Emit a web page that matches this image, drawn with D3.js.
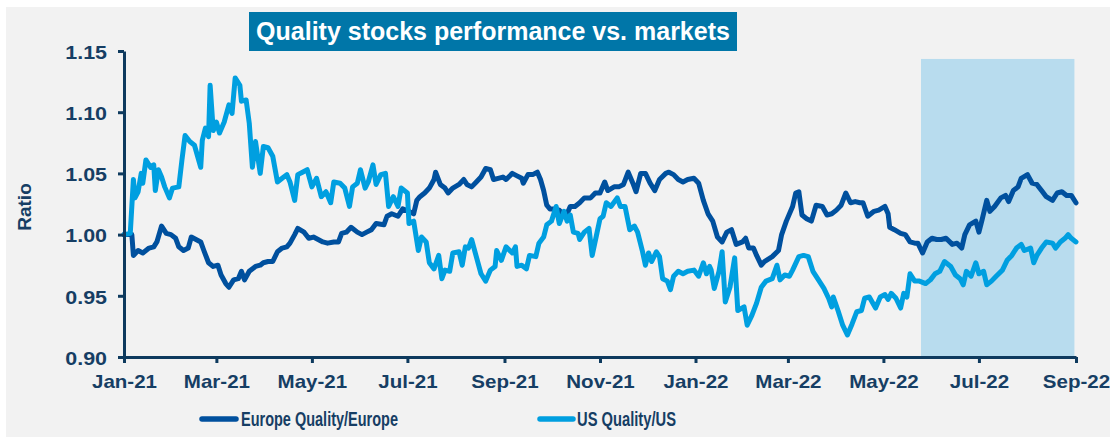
<!DOCTYPE html>
<html><head><meta charset="utf-8">
<script src="https://cdn.jsdelivr.net/npm/d3@7"></script>
<style>
html,body{margin:0;padding:0;background:#fff;}
svg{display:block;}
text{font-family:Arial,"Liberation Sans",sans-serif;font-weight:bold;}
</style></head><body>
<svg id="c" width="1110" height="437"></svg>
<script>
// ---- data (day offsets from startDate, ratio values) ----
const startDate = "2021-01-01";
const endDate = "2022-09-01";
const yTicks = [0.90, 0.95, 1.00, 1.05, 1.10, 1.15];
const titleText = "Quality stocks performance vs. markets";
const axisTitle = "Ratio";
const seriesNames = ["Europe Quality/Europe", "US Quality/US"];
const shadeStart = "2022-05-25", shadeEnd = "2022-08-31", shadeTop = 1.1435;

const euData = [[0,1.000],[5,1.000],[6,0.983],[9,0.987],[12,0.985],[16,0.989],[19,0.990],[21,0.994],[24,1.007],[27,1.001],[30,1.000],[33,0.997],[35,0.990],[38,0.987],[41,0.989],[43,0.998],[46,0.996],[49,0.994],[51,0.987],[54,0.977],[57,0.974],[60,0.975],[62,0.967],[65,0.960],[67,0.957],[70,0.963],[73,0.964],[75,0.970],[77,0.963],[80,0.970],[84,0.974],[87,0.975],[89,0.977],[92,0.978],[95,0.978],[98,0.986],[101,0.989],[104,0.990],[106,0.993],[109,1.000],[111,1.005],[115,1.002],[118,0.997],[121,0.998],[124,0.996],[127,0.994],[130,0.993],[134,0.994],[137,0.994],[139,1.001],[142,1.002],[145,1.006],[149,1.002],[152,1.000],[155,1.002],[158,1.004],[161,1.009],[166,1.008],[168,1.015],[171,1.017],[175,1.015],[178,1.021],[182,1.019],[185,1.017],[187,1.028],[189,1.031],[192,1.034],[195,1.038],[198,1.045],[199,1.051],[202,1.041],[205,1.038],[207,1.034],[210,1.038],[214,1.041],[217,1.045],[219,1.041],[222,1.039],[225,1.043],[228,1.047],[231,1.054],[234,1.053],[236,1.045],[239,1.046],[242,1.047],[244,1.045],[248,1.050],[251,1.048],[254,1.046],[255,1.042],[258,1.049],[261,1.049],[264,1.051],[266,1.045],[268,1.036],[270,1.024],[272,1.021],[275,1.021],[278,1.020],[281,1.016],[283,1.017],[285,1.023],[288,1.023],[291,1.026],[294,1.030],[298,1.030],[301,1.034],[304,1.034],[307,1.043],[309,1.036],[313,1.039],[316,1.039],[319,1.041],[322,1.051],[325,1.042],[327,1.035],[330,1.050],[333,1.050],[336,1.042],[339,1.036],[342,1.045],[346,1.050],[348,1.051],[351,1.049],[354,1.045],[357,1.043],[360,1.045],[364,1.046],[367,1.042],[370,1.028],[373,1.017],[376,1.011],[379,0.998],[382,0.994],[385,1.002],[388,1.004],[391,0.992],[395,0.994],[397,0.997],[399,0.989],[402,0.989],[404,0.983],[407,0.975],[409,0.978],[414,0.982],[418,0.987],[420,1.000],[423,1.011],[427,1.023],[429,1.034],[431,1.035],[433,1.016],[436,1.013],[439,1.011],[442,1.024],[446,1.023],[449,1.016],[452,1.017],[455,1.020],[458,1.024],[461,1.034],[464,1.026],[467,1.027],[470,1.026],[472,1.026],[475,1.015],[479,1.019],[482,1.020],[486,1.023],[488,1.017],[489,1.006],[492,1.004],[496,1.001],[499,1.000],[502,0.994],[505,0.993],[507,0.993],[510,0.985],[513,0.994],[516,0.997],[519,0.996],[522,0.996],[525,0.997],[529,0.992],[532,0.993],[535,0.989],[537,1.000],[540,1.008],[544,1.011],[546,1.002],[548,1.012],[551,1.028],[553,1.019],[556,1.023],[560,1.030],[563,1.032],[565,1.027],[568,1.036],[571,1.039],[573,1.046],[577,1.049],[580,1.042],[583,1.041],[586,1.036],[589,1.031],[593,1.028],[596,1.034],[599,1.035],[602,1.032],[605,1.032],[608,1.026]];

const usData = [[0,1.000],[4,1.001],[6,1.045],[7,1.030],[9,1.035],[11,1.050],[12,1.042],[14,1.061],[17,1.055],[19,1.057],[20,1.036],[22,1.053],[24,1.047],[26,1.039],[29,1.030],[31,1.038],[35,1.039],[37,1.061],[39,1.081],[42,1.076],[45,1.073],[49,1.055],[50,1.077],[52,1.087],[54,1.080],[55,1.122],[57,1.085],[59,1.092],[61,1.083],[64,1.092],[67,1.106],[69,1.099],[71,1.128],[74,1.122],[75,1.109],[78,1.110],[80,1.091],[82,1.055],[84,1.076],[87,1.050],[89,1.072],[92,1.071],[95,1.064],[98,1.043],[101,1.046],[104,1.049],[106,1.043],[109,1.028],[111,1.049],[114,1.051],[117,1.053],[120,1.039],[123,1.046],[126,1.031],[129,1.035],[132,1.026],[134,1.043],[138,1.042],[141,1.038],[144,1.023],[146,1.039],[149,1.042],[151,1.053],[154,1.038],[156,1.043],[159,1.057],[161,1.041],[164,1.049],[167,1.050],[169,1.023],[172,1.031],[175,1.023],[177,1.038],[181,1.034],[182,1.009],[185,1.011],[188,0.987],[190,0.998],[193,0.994],[195,0.977],[198,0.972],[201,0.983],[203,0.964],[205,0.971],[208,0.970],[210,0.985],[214,0.986],[216,0.975],[218,0.990],[220,0.989],[222,0.996],[225,0.982],[228,0.968],[231,0.962],[234,0.971],[237,0.974],[238,0.987],[241,0.979],[244,0.990],[248,0.985],[250,0.990],[251,0.974],[254,0.975],[257,0.972],[259,0.983],[263,0.982],[265,0.993],[268,0.998],[270,1.008],[273,1.011],[276,1.023],[278,1.009],[281,1.019],[283,1.011],[285,1.016],[287,1.002],[290,1.001],[291,0.996],[294,1.002],[297,1.005],[299,0.983],[302,1.001],[304,1.013],[306,1.015],[308,1.026],[311,1.023],[315,1.030],[317,1.023],[320,1.023],[323,1.004],[326,1.007],[328,1.002],[331,0.987],[333,0.975],[335,0.985],[337,0.978],[340,0.986],[342,0.982],[344,0.964],[347,0.962],[349,0.955],[351,0.966],[354,0.970],[357,0.968],[360,0.970],[364,0.971],[367,0.966],[370,0.977],[372,0.968],[374,0.974],[375,0.971],[377,0.956],[380,0.970],[382,0.986],[384,0.945],[387,0.957],[390,0.981],[392,0.938],[396,0.941],[398,0.926],[401,0.934],[404,0.944],[407,0.957],[410,0.962],[414,0.964],[417,0.975],[419,0.963],[422,0.967],[425,0.966],[427,0.971],[431,0.982],[434,0.983],[437,0.982],[440,0.970],[443,0.964],[447,0.956],[450,0.948],[452,0.941],[453,0.949],[456,0.938],[459,0.926],[462,0.918],[465,0.927],[468,0.937],[471,0.938],[473,0.948],[476,0.949],[480,0.940],[483,0.949],[486,0.951],[488,0.947],[490,0.952],[493,0.948],[496,0.940],[498,0.952],[500,0.949],[502,0.968],[505,0.962],[508,0.962],[512,0.960],[515,0.963],[518,0.968],[521,0.970],[524,0.978],[528,0.974],[531,0.967],[534,0.964],[536,0.959],[538,0.970],[541,0.966],[544,0.977],[546,0.968],[549,0.970],[551,0.959],[554,0.962],[557,0.966],[561,0.971],[564,0.979],[567,0.983],[570,0.989],[573,0.992],[575,0.987],[579,0.989],[581,0.977],[583,0.983],[586,0.989],[589,0.994],[593,0.993],[595,0.989],[598,0.994],[601,0.997],[603,1.000],[605,0.997],[608,0.994]];

// ---- styles ----
const C = {
  panel: "#f2f2f2", titleBg: "#0076a8", shade: "#b8dcee",
  axis: "#0e3a5e", text: "#163e64", eu: "#00509e", us: "#009fe0"
};

const parse = d3.timeParse("%Y-%m-%d");
const t0 = parse(startDate);
const toDate = d => d3.timeDay.offset(t0, d);

const svg = d3.select("#c");
const x = d3.scaleTime().domain([t0, parse(endDate)]).range([124, 1076]);
const y = d3.scaleLinear().domain([0.90, 1.15]).range([357, 51]);

svg.append("rect").attr("x", 6).attr("y", 7).attr("width", 1104).attr("height", 430).attr("fill", C.panel);

// shaded period
svg.append("rect")
  .attr("x", x(parse(shadeStart))).attr("y", y(shadeTop))
  .attr("width", x(parse(shadeEnd)) - x(parse(shadeStart)))
  .attr("height", y(0.90) - y(shadeTop))
  .attr("fill", C.shade);

// title
svg.append("rect").attr("x", 249).attr("y", 12).attr("width", 488).attr("height", 39).attr("fill", C.titleBg);
svg.append("text").attr("x", 493).attr("y", 40).attr("text-anchor", "middle")
  .attr("fill", "#fff").style("font-size", "25px").text(titleText);

// lines
const line = d3.line().x(d => x(toDate(d[0]))).y(d => y(d[1])).curve(d3.curveLinear);
[[euData, C.eu], [usData, C.us]].forEach(([data, col]) => {
  svg.append("path").datum(data).attr("d", line)
    .attr("fill", "none").attr("stroke", col).attr("stroke-width", 5)
    .attr("stroke-linejoin", "round").attr("stroke-linecap", "round");
});

// axes
const yAxis = svg.append("g").attr("transform", "translate(124,0)")
  .call(d3.axisLeft(y).tickValues(yTicks).tickFormat(d3.format(".2f")).tickSize(6).tickSizeOuter(0).tickPadding(11));
const xAxis = svg.append("g").attr("transform", "translate(0,357)")
  .call(d3.axisBottom(x).ticks(d3.timeMonth.every(2)).tickFormat(d3.timeFormat("%b-%y")).tickSize(6).tickSizeOuter(0));

[yAxis, xAxis].forEach(g => {
  g.select(".domain").attr("stroke", C.axis).attr("stroke-width", 3);
  g.selectAll(".tick line").attr("stroke", C.axis).attr("stroke-width", 3);
  g.selectAll(".tick text").attr("fill", C.text).style("font-size", "19px")
    .style("font-family", "Arial, 'Liberation Sans', sans-serif").style("font-weight", "bold");
});
yAxis.selectAll(".tick text").attr("dy", "0.38em").each(function () {
  const w = this.getComputedTextLength();
  d3.select(this).attr("textLength", w * 1.13).attr("lengthAdjust", "spacingAndGlyphs");
});
xAxis.selectAll(".tick text").attr("y", 31).attr("dy", 0).each(function () {
  const w = this.getComputedTextLength();
  d3.select(this).attr("textLength", w * 1.08).attr("lengthAdjust", "spacingAndGlyphs");
});

// axis title
svg.append("text").attr("transform", "translate(31,207) rotate(-90)")
  .attr("text-anchor", "middle").attr("fill", C.text).style("font-size", "19px").text(axisTitle);

// legend
const legend = [
  { name: seriesNames[0], col: C.eu, x0: 202, x1: 236, tx: 241, w: 157 },
  { name: seriesNames[1], col: C.us, x0: 540, x1: 573, tx: 577, w: 99 }
];
legend.forEach(l => {
  svg.append("line").attr("x1", l.x0).attr("x2", l.x1).attr("y1", 419).attr("y2", 419)
    .attr("stroke", l.col).attr("stroke-width", 5.5).attr("stroke-linecap", "round");
  svg.append("text").attr("x", l.tx).attr("y", 425.5).attr("fill", C.text)
    .style("font-size", "19.5px").attr("textLength", l.w).attr("lengthAdjust", "spacingAndGlyphs")
    .text(l.name);
});
</script>
</body></html>
